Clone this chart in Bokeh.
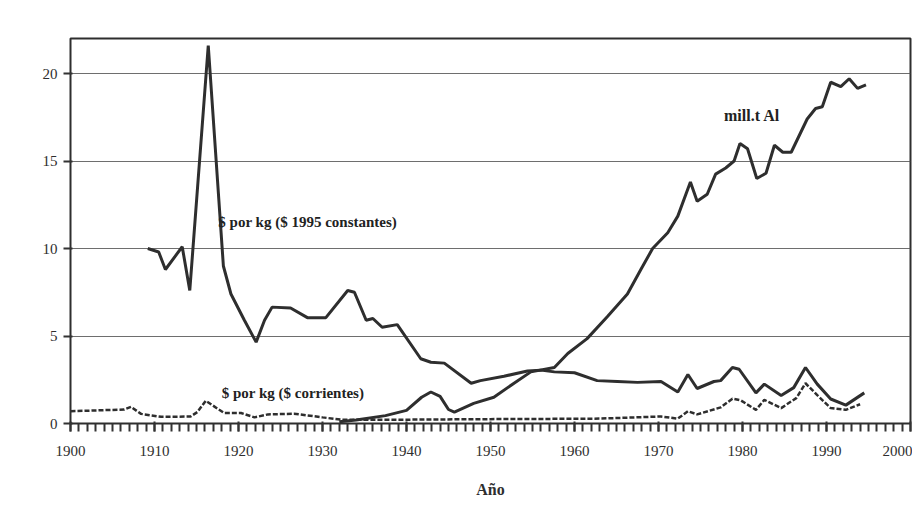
from bokeh.plotting import figure
from bokeh.models import Label, SingleIntervalTicker, FixedTicker, Range1d
from bokeh.embed import file_html
from bokeh.resources import INLINE

# ---- data ----
const_years = [1909.2, 1910.5, 1911.3, 1913.3, 1914.2, 1916.4, 1918.2, 1919.1, 1920.7, 1922.1,
               1923.1, 1924.0, 1926.2, 1928.2, 1930.4, 1933.0, 1933.8, 1935.2, 1936.0, 1937.1,
               1938.9, 1941.7, 1942.9, 1944.5, 1947.7, 1948.8, 1951.6, 1954.4, 1956.0, 1957.6,
               1960.0, 1962.7, 1965.1, 1967.5, 1970.3, 1972.3, 1973.5, 1974.6, 1976.6, 1977.4,
               1978.8, 1979.6, 1981.6, 1982.6, 1984.6, 1986.1, 1987.5, 1988.9, 1990.5, 1992.3,
               1994.5]
const_vals = [10.0, 9.8, 8.8, 10.1, 7.6, 21.6, 9.0, 7.4, 5.9, 4.65,
              5.9, 6.65, 6.6, 6.05, 6.05, 7.6, 7.5, 5.9, 6.0, 5.5,
              5.65, 3.7, 3.5, 3.45, 2.3, 2.45, 2.7, 3.0, 3.05, 2.95,
              2.9, 2.45, 2.4, 2.35, 2.4, 1.8, 2.8, 2.0, 2.4, 2.45,
              3.2, 3.1, 1.75, 2.25, 1.6, 2.05, 3.2, 2.25, 1.4, 1.05,
              1.75]

curr_years = [1900.0, 1906.4, 1907.2, 1908.4, 1910.8, 1914.3, 1915.1, 1916.1, 1917.5, 1918.3,
              1920.3, 1921.9, 1923.5, 1926.6, 1930.0, 1932.2, 1940.0, 1950.0, 1960.0, 1963.0,
              1970.3, 1972.3, 1973.5, 1974.6, 1977.4, 1978.8, 1979.8, 1981.6, 1982.6, 1984.6,
              1986.4, 1987.5, 1988.9, 1990.5, 1992.3, 1994.0]
curr_vals = [0.7, 0.8, 0.95, 0.55, 0.38, 0.4, 0.65, 1.3, 0.85, 0.6,
             0.6, 0.35, 0.52, 0.56, 0.35, 0.22, 0.22, 0.25, 0.27, 0.28,
             0.4, 0.28, 0.7, 0.52, 0.92, 1.42, 1.32, 0.78, 1.35, 0.88,
             1.45, 2.3, 1.62, 0.88, 0.78, 1.1]

prod_years = [1932.0, 1934.0, 1937.5, 1940.0, 1941.8, 1942.9, 1944.0, 1945.0, 1945.7, 1948.0,
              1950.4, 1952.8, 1954.8, 1957.6, 1959.2, 1961.5, 1963.9, 1966.3, 1967.9, 1969.3,
              1971.1, 1972.3, 1973.8, 1974.6, 1975.8, 1976.8, 1978.0, 1979.0, 1979.7, 1980.6,
              1981.7, 1982.8, 1983.8, 1984.8, 1985.8, 1987.7, 1988.7, 1989.5, 1990.5, 1991.7,
              1992.7, 1993.7, 1994.7]
prod_vals = [0.1, 0.2, 0.45, 0.75, 1.5, 1.8, 1.55, 0.8, 0.65, 1.15,
             1.5, 2.3, 2.95, 3.2, 4.0, 4.85, 6.1, 7.4, 8.8, 10.0,
             10.9, 11.85, 13.8, 12.7, 13.1, 14.25, 14.6, 15.0, 16.0, 15.7,
             14.0, 14.3, 15.9, 15.5, 15.5, 17.4, 18.0, 18.1, 19.5, 19.25,
             19.7, 19.15, 19.35]

y_ticks = [0, 5, 10, 15, 20]
x_tick_interval = 10

serif = "Liberation Serif"
ink = "#2e2e2e"

p = figure(width=912, height=506, output_backend="svg", toolbar_location=None,
           x_range=Range1d(1900, 2000), y_range=Range1d(0, 22),
           min_border_left=70, min_border_right=2, min_border_top=38, min_border_bottom=83)

p.outline_line_color = ink
p.outline_line_width = 2

p.xgrid.grid_line_color = None
p.ygrid.ticker = FixedTicker(ticks=y_ticks)
p.ygrid.grid_line_color = "#555555"
p.ygrid.grid_line_width = 1.2
p.ygrid.grid_line_alpha = 0.85

xax = p.xaxis[0]
yax = p.yaxis[0]
xax.ticker = SingleIntervalTicker(interval=x_tick_interval, num_minor_ticks=10)
yax.ticker = FixedTicker(ticks=y_ticks)

xax.major_tick_line_color = "#333333"
xax.major_tick_line_width = 2
xax.major_tick_out = 8
xax.minor_tick_line_color = "#333333"
xax.minor_tick_line_width = 2
xax.minor_tick_out = 8
yax.major_tick_line_color = "#333333"
yax.major_tick_line_width = 2
yax.major_tick_out = 7
yax.minor_tick_line_color = None

for ax in (xax, yax):
    ax.axis_line_color = ink
    ax.major_label_text_font = serif
    ax.major_label_text_font_size = "15px"
    ax.major_label_text_color = ink
xax.major_label_standoff = 14
yax.major_label_standoff = 6

xax.axis_label = "Año"
xax.axis_label_text_font = serif
xax.axis_label_text_font_style = "bold"
xax.axis_label_text_font_size = "16px"
xax.axis_label_text_color = ink
xax.axis_label_standoff = 22

p.line(const_years, const_vals, line_color=ink, line_width=3)
p.line(prod_years, prod_vals, line_color=ink, line_width=3)
p.line(curr_years, curr_vals, line_color=ink, line_width=2.5, line_dash="5 2")

lab_kw = dict(text_font=serif, text_font_style="bold", text_font_size="15px",
              text_color="#222222", text_baseline="middle")
p.add_layout(Label(x=1917.6, y=11.5, text="$ por kg ($ 1995 constantes)", **lab_kw))
p.add_layout(Label(x=1918.0, y=1.75, text="$ por kg ($ corrientes)", **lab_kw))
p.add_layout(Label(x=1977.8, y=17.6, text="mill.t Al", text_font_size="16px",
                   **{k: v for k, v in lab_kw.items() if k != "text_font_size"}))

open("out.html", "w").write(file_html(p, INLINE))
